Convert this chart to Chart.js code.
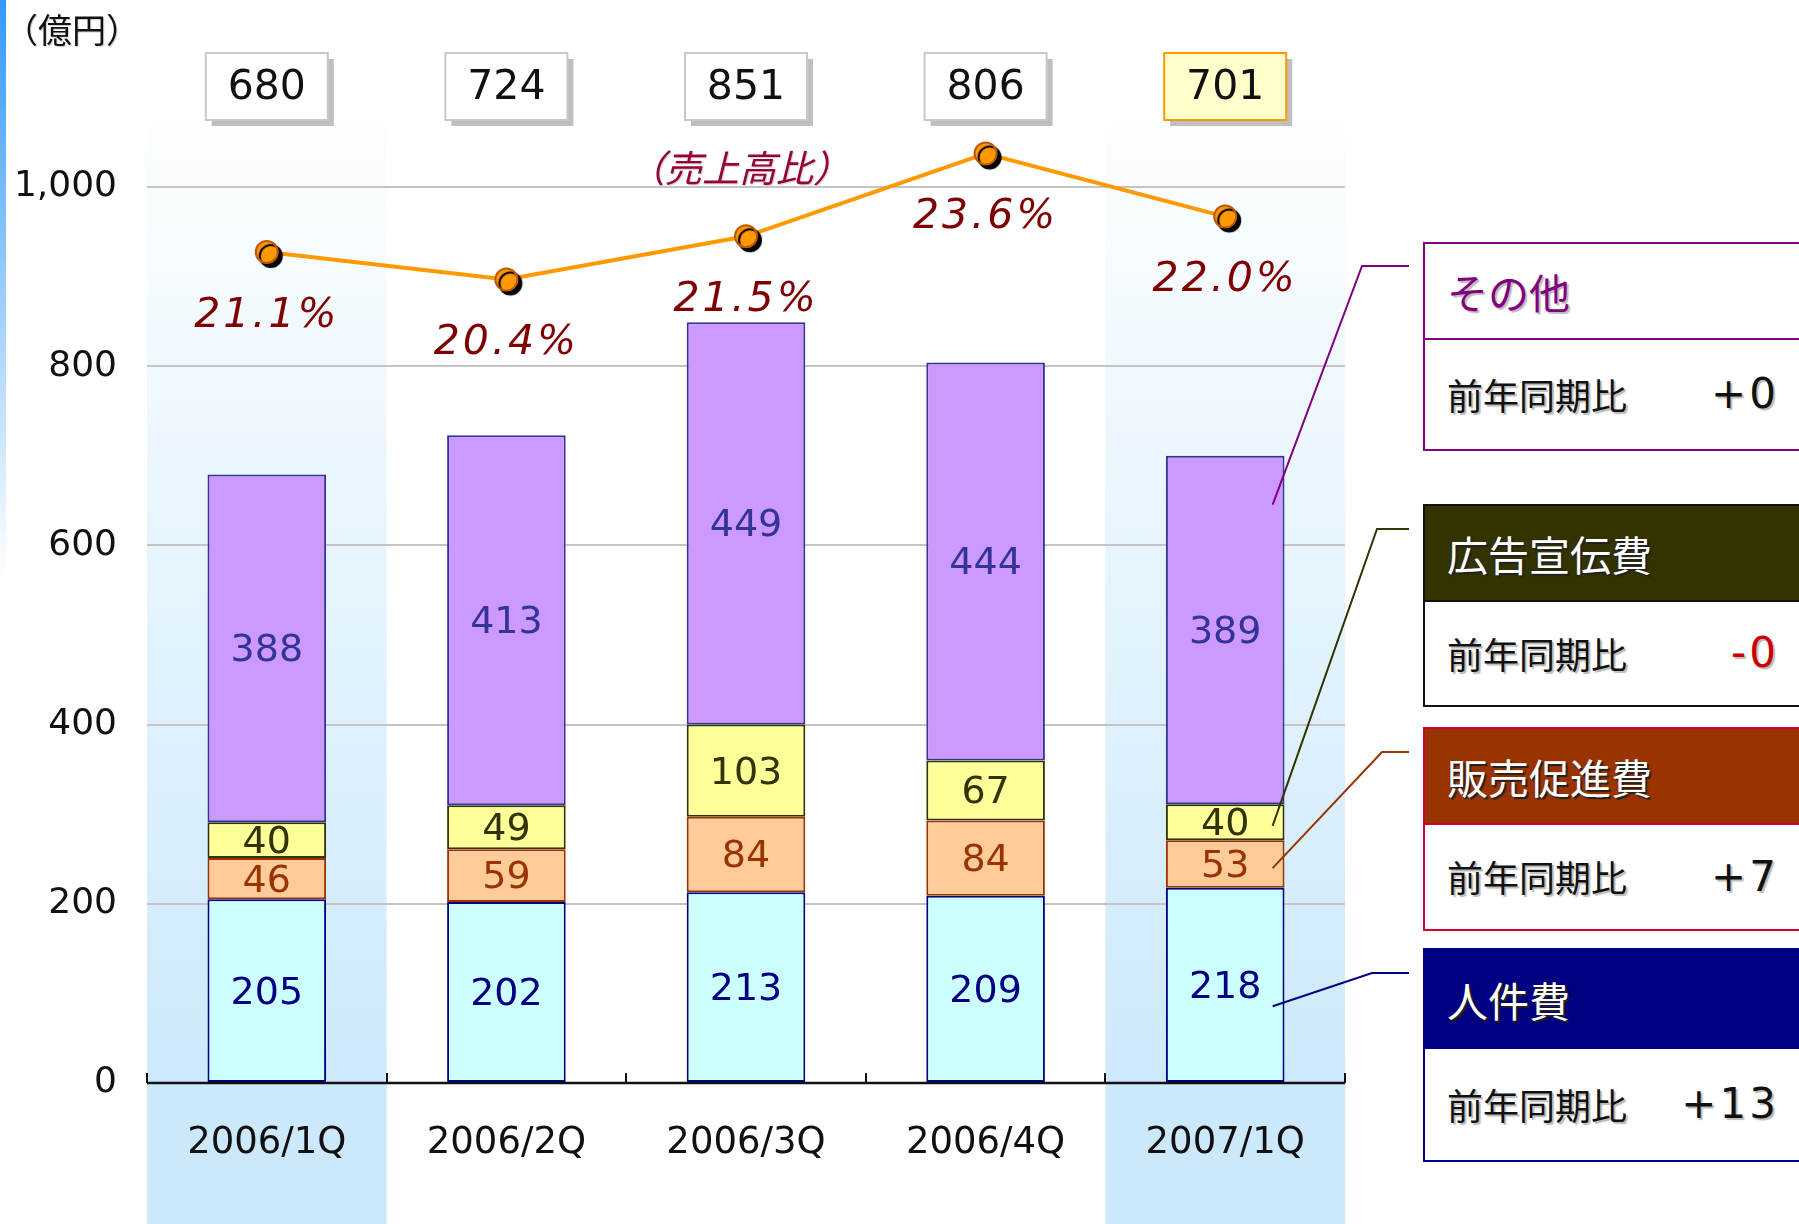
<!DOCTYPE html>
<html lang="ja">
<head>
<meta charset="utf-8">
<title>販売費及び一般管理費</title>
<script src="https://cdn.jsdelivr.net/npm/chart.js@4.4.1/dist/chart.umd.min.js"></script>
<style>
  html, body { margin: 0; padding: 0; background: #fff; }
  #wrap { position: relative; width: 1799px; height: 1224px; overflow: hidden; font-family: "Noto Sans CJK JP", sans-serif; }
  #strip { position: absolute; left: 0; top: 0; width: 6px; height: 580px; background: linear-gradient(#3399ff, #ffffff); }
  #unit { position: absolute; left: 4px; top: 12px; font-size: 34px; line-height: 1; color: #111; text-shadow: 1px 1px 1px #ccc; }
  #ratioTitle { position: absolute; left: 628px; top: 148px; font-size: 37px; line-height: 1; color: #990033; font-style: italic; text-shadow: 1px 1px 1px #ccc; }
  .panel { position: absolute; left: 1423px; width: 400px; background: #fff; box-sizing: border-box; border: 2px solid; }
  .panel .head { position: absolute; left: 0; right: 0; top: 0; box-sizing: border-box; border-bottom: 2px solid; font-size: 41px; padding-left: 22px; display: flex; align-items: center; color: #fff; text-shadow: 2px 2px 1px #222; }
  .panel .row { position: absolute; left: 0; right: 0; bottom: 0; display: flex; align-items: center; font-size: 36px; padding-left: 22px; color: #111; text-shadow: 2px 2px 1px #bbb; }
  .panel .val { position: absolute; right: 42px; font-family: "DejaVu Sans", sans-serif; font-size: 42px; letter-spacing: 3px; }
  canvas { position: absolute; left: 0; top: 0; }
</style>
</head>
<body>
<div id="wrap">
  <canvas id="costChart" width="1799" height="1224"></canvas>
  <div id="strip"></div>
  <div id="unit">（億円）</div>
  <div id="ratioTitle">（売上高比）</div>
</div>
<script>
// 販管費の内訳（億円）
const categories = ['2006/1Q', '2006/2Q', '2006/3Q', '2006/4Q', '2007/1Q'];
const personnel = [205, 202, 213, 209, 218];     // 人件費
const promotion = [46, 59, 84, 84, 53];          // 販売促進費
const advertising = [40, 49, 103, 67, 40];       // 広告宣伝費
const others = [388, 413, 449, 444, 389];        // その他
const totals = [680, 724, 851, 806, 701];
const salesRatio = [21.1, 20.4, 21.5, 23.6, 22.0]; // 売上高比 (%)
const yTicks = [0, 200, 400, 600, 800, 1000];

// 右側のパネル（前年同期比）
const panelNames = ['その他', '広告宣伝費', '販売促進費', '人件費'];
const yoyDiffs = ['+0', '-0', '+7', '+13'];

const highlightCols = [0, 4];

// パネルの見た目
const panelStyles = [
    { top: 242, bottom: 451, split: 338, border: '#800080', head: '#ffffff', text: '#800080', line: '#800080', valColor: '#111', ds: 3, frac: 0.86, hx: 1362, hy: 266 },
    { top: 504, bottom: 707, split: 600, border: '#111111', head: '#333300', text: '#ffffff', line: '#333300', valColor: '#cc0000', ds: 2, frac: 0.4, hx: 1377, hy: 529 },
    { top: 727, bottom: 931, split: 823, border: '#cc0033', head: '#993300', text: '#ffffff', line: '#993300', valColor: '#111', ds: 1, frac: 0.41, hx: 1382, hy: 752 },
    { top: 948, bottom: 1162, split: 1047, border: '#000080', head: '#000080', text: '#ffffff', line: '#000080', valColor: '#111', ds: 0, frac: 0.39, hx: 1372, hy: 973 }
];

const wrap = document.getElementById('wrap');
panelNames.forEach((name, i) => {
    const st = panelStyles[i];
    const p = document.createElement('div');
    p.className = 'panel';
    p.style.top = st.top + 'px';
    p.style.height = (st.bottom - st.top) + 'px';
    p.style.borderColor = st.border;
    const head = document.createElement('div');
    head.className = 'head';
    head.style.height = (st.split - st.top) + 'px';
    head.style.background = st.head;
    head.style.color = st.text;
    head.style.borderBottomColor = st.border;
    if (st.head === '#ffffff') head.style.textShadow = '2px 2px 1px #bbb';
    head.textContent = name;
    const row = document.createElement('div');
    row.className = 'row';
    row.style.height = (st.bottom - st.split - 2) + 'px';
    row.textContent = '前年同期比';
    const val = document.createElement('span');
    val.className = 'val';
    val.style.color = st.valColor;
    val.textContent = yoyDiffs[i];
    row.appendChild(val);
    p.appendChild(head);
    p.appendChild(row);
    wrap.appendChild(p);
});

const labelColors = ['#000080', '#993300', '#333300', '#333399'];

// 背景の帯
const bandPlugin = {
    id: 'bands',
    beforeDraw(chart) {
        const { ctx, chartArea, scales } = chart;
        const w = (chartArea.right - chartArea.left) / categories.length;
        highlightCols.forEach(i => {
            const x0 = scales.x.getPixelForValue(i) - w / 2;
            const g = ctx.createLinearGradient(0, chartArea.top, 0, chartArea.bottom);
            g.addColorStop(0, '#fcfeff');
            g.addColorStop(1, '#cce9fb');
            ctx.fillStyle = g;
            ctx.fillRect(x0, chartArea.top, w, chartArea.bottom - chartArea.top);
            ctx.fillStyle = '#cce9fb';
            ctx.fillRect(x0, chartArea.bottom, w, chart.height - chartArea.bottom);
        });
    }
};

// 点の影
const shadowPlugin = {
    id: 'pointShadow',
    beforeDatasetDraw(chart, args) {
        if (args.index !== 5) return;
        const ctx = chart.ctx;
        ctx.save();
        ctx.shadowColor = '#000';
        ctx.shadowOffsetX = 4;
        ctx.shadowOffsetY = 4;
        ctx.shadowBlur = 1;
    },
    afterDatasetDraw(chart, args) {
        if (args.index !== 5) return;
        chart.ctx.restore();
    }
};

// ラベル・軸・引き出し線
const labelPlugin = {
    id: 'labels',
    afterDatasetsDraw(chart) {
        const { ctx, chartArea, scales } = chart;
        ctx.save();
        ctx.textAlign = 'center';
        ctx.textBaseline = 'middle';

        // 軸線と目盛り
        const w = (chartArea.right - chartArea.left) / categories.length;
        ctx.strokeStyle = '#111';
        ctx.lineWidth = 2.5;
        ctx.beginPath();
        ctx.moveTo(chartArea.left, chartArea.bottom);
        ctx.lineTo(chartArea.right, chartArea.bottom);
        ctx.stroke();
        ctx.lineWidth = 2;
        for (let i = 0; i <= categories.length; i++) {
            const x = Math.round(chartArea.left + i * w);
            ctx.beginPath();
            ctx.moveTo(x, chartArea.bottom - 10);
            ctx.lineTo(x, chartArea.bottom);
            ctx.stroke();
        }

        // 積み上げの数値
        ctx.font = '38px "DejaVu Sans"';
        [0, 1, 2, 3].forEach(d => {
            const meta = chart.getDatasetMeta(d);
            meta.data.forEach((el, j) => {
                ctx.fillStyle = labelColors[d];
                ctx.fillText(chart.data.datasets[d].data[j], el.x, (el.y + el.base) / 2 + 3);
            });
        });

        // 合計のボックス
        const top = chart.getDatasetMeta(3);
        top.data.forEach((el, j) => {
            const bw = 122, bh = 67, by = 53;
            const bx = el.x - bw / 2;
            const last = j === totals.length - 1;
            ctx.fillStyle = '#bfbfbf';
            ctx.fillRect(bx + 6, by + 6, bw, bh);
            ctx.fillStyle = last ? '#ffffcc' : '#ffffff';
            ctx.fillRect(bx, by, bw, bh);
            ctx.strokeStyle = last ? '#ff9900' : '#c8c8c8';
            ctx.lineWidth = 2;
            ctx.strokeRect(bx, by, bw, bh);
            ctx.fillStyle = '#111';
            ctx.font = '41px "DejaVu Sans"';
            ctx.fillText(totals[j], el.x, by + bh / 2 + 2);
        });

        // 売上高比
        ctx.font = 'italic 41px "DejaVu Sans"';
        ctx.letterSpacing = '3px';
        ctx.fillStyle = '#800000';
        chart.getDatasetMeta(5).data.forEach((pt, j) => {
            ctx.fillText(salesRatio[j].toFixed(1) + '%', pt.x, pt.y + 64);
        });
        ctx.letterSpacing = '0px';

        // 引き出し線
        ctx.lineWidth = 2;
        panelStyles.forEach(st => {
            const el = chart.getDatasetMeta(st.ds).data[categories.length - 1];
            const ex = el.x + (el.width || 118) * 0.4;
            const ey = el.base + (el.y - el.base) * st.frac;
            ctx.strokeStyle = st.line;
            ctx.beginPath();
            ctx.moveTo(ex, ey);
            ctx.lineTo(st.hx, st.hy);
            ctx.lineTo(1409, st.hy);
            ctx.stroke();
        });
        ctx.restore();
    }
};

const ctx = document.getElementById('costChart').getContext('2d');
const costChart = new Chart(ctx, {
    type: 'bar',
    data: {
        labels: categories,
        datasets: [
            { label: '人件費', data: personnel, backgroundColor: '#ccffff', borderColor: '#000080' },
            { label: '販売促進費', data: promotion, backgroundColor: '#ffcc99', borderColor: '#993300' },
            { label: '広告宣伝費', data: advertising, backgroundColor: '#ffff99', borderColor: '#333300' },
            { label: 'その他', data: others, backgroundColor: '#cc99ff', borderColor: '#333399' },
            {
                type: 'line', label: '売上高比', data: salesRatio, yAxisID: 'y1',
                borderColor: '#ff9900', borderWidth: 4, pointRadius: 0, tension: 0, order: 2
            },
            {
                type: 'line', label: '売上高比点', data: salesRatio, yAxisID: 'y1', showLine: false,
                pointRadius: 11, pointBackgroundColor: '#ff9900', pointBorderColor: '#c05800',
                pointBorderWidth: 2, order: 1, clip: false
            }
        ].map(ds => ds.type ? ds : Object.assign(ds, {
            stack: 'cost', order: 3, borderWidth: 2, borderSkipped: false,
            categoryPercentage: 1, barPercentage: 0.495
        }))
    },
    options: {
        responsive: false,
        animation: false,
        events: [],
        layout: { padding: { top: 126, right: 454, left: 0, bottom: 0 } },
        plugins: { legend: { display: false }, tooltip: { enabled: false } },
        scales: {
            x: {
                stacked: true,
                grid: { display: false, drawTicks: false },
                border: { display: false },
                ticks: { color: '#111', font: { family: 'DejaVu Sans', size: 37 }, padding: 38 },
                afterFit(scale) { scale.height = 141; }
            },
            y: {
                stacked: true,
                min: 0,
                max: 1068,
                afterBuildTicks(scale) { scale.ticks = yTicks.map(v => ({ value: v })); },
                grid: { color: '#c4c4c4', lineWidth: 2, drawTicks: false },
                border: { display: false },
                ticks: {
                    color: '#111', padding: 30,
                    font: { family: 'DejaVu Sans', size: 36 },
                    callback: v => v.toLocaleString('en-US')
                },
                afterFit(scale) { scale.width = 147; }
            },
            y1: { display: false, min: 0, max: 24.3 }
        }
    },
    plugins: [bandPlugin, shadowPlugin, labelPlugin]
});
</script>
</body>
</html>
